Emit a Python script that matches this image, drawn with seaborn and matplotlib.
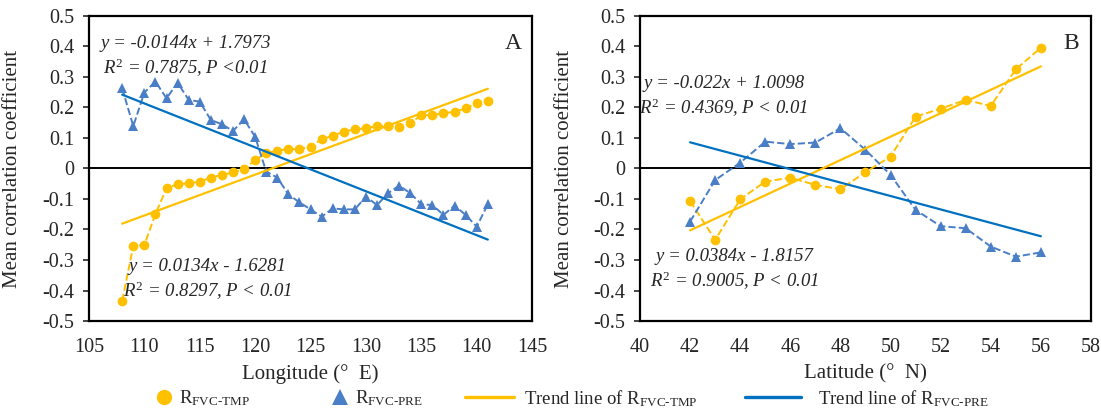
import numpy as np
import matplotlib
matplotlib.use("Agg")
import matplotlib.pyplot as plt
from matplotlib.lines import Line2D
from matplotlib.ticker import FuncFormatter
import seaborn as sns

# Panel A: mean correlation coefficient by longitude
lon = list(range(108, 142))
lon_tmp = [-0.434, -0.254, -0.251, -0.149, -0.065, -0.051, -0.049, -0.043, -0.030, -0.021,
           -0.013, -0.003, 0.028, 0.050, 0.058, 0.064, 0.064, 0.071, 0.096, 0.107,
           0.121, 0.128, 0.132, 0.139, 0.139, 0.137, 0.148, 0.175, 0.175, 0.181,
           0.186, 0.197, 0.214, 0.222]
lon_pre = [0.263, 0.139, 0.249, 0.285, 0.230, 0.281, 0.225, 0.219, 0.159, 0.145,
           0.123, 0.161, 0.104, -0.010, -0.030, -0.085, -0.111, -0.134, -0.158, -0.131,
           -0.134, -0.134, -0.092, -0.120, -0.081, -0.056, -0.081, -0.117, -0.120, -0.152,
           -0.122, -0.152, -0.191, -0.117]

# Panel B: mean correlation coefficient by latitude
lat = list(range(42, 57))
lat_tmp = [-0.107, -0.234, -0.101, -0.043, -0.030, -0.054, -0.068, -0.012, 0.039, 0.170,
           0.196, 0.225, 0.205, 0.325, 0.396]
lat_pre = [-0.174, -0.038, 0.019, 0.088, 0.080, 0.085, 0.132, 0.061, -0.021, -0.136,
           -0.189, -0.196, -0.256, -0.289, -0.275]

# linear trend coefficients (slope, intercept) as printed on the chart
fit_lon_tmp = (0.0134, -1.6281)
fit_lon_pre = (-0.0144, 1.7973)
fit_lat_tmp = (0.0384, -1.8157)
fit_lat_pre = (-0.022, 1.0098)

eq_lon_pre = "y = -0.0144x + 1.7973\n$R^2$ = 0.7875, P <0.01"
eq_lon_tmp = "y = 0.0134x - 1.6281\n$R^2$ = 0.8297, P < 0.01"
eq_lat_pre = "y = -0.022x + 1.0098\n$R^2$ = 0.4369, P < 0.01"
eq_lat_tmp = "y = 0.0384x - 1.8157\n$R^2$ = 0.9005, P < 0.01"

YELLOW = "#FFC000"
BLUE_PT = "#4A7EC6"
BLUE_LN = "#0070C0"

sns.set_style("white")
plt.rcParams["font.family"] = ["Liberation Serif", "DejaVu Serif"]
plt.rcParams["mathtext.fontset"] = "custom"
plt.rcParams["mathtext.rm"] = "Liberation Serif"
plt.rcParams["mathtext.it"] = "Liberation Serif:italic"
plt.rcParams["axes.unicode_minus"] = False


def trend(x, coef):
    x = np.array([min(x), max(x)], dtype=float)
    return x, coef[0] * x + coef[1]


def draw_panel(ax, x, tmp, pre, ftmp, fpre, xlim, xticks, xlabel, tag):
    sns.lineplot(x=x, y=tmp, ax=ax, color=YELLOW, marker="o", markersize=7,
                 markeredgewidth=0, linestyle="--", linewidth=1.4)
    sns.lineplot(x=x, y=pre, ax=ax, color=BLUE_PT, marker="^", markersize=7.5,
                 markeredgewidth=0, linestyle="--", linewidth=1.4)
    tx, ty = trend(x, ftmp)
    sns.lineplot(x=tx, y=ty, ax=ax, color=YELLOW, linewidth=1.6)
    tx, ty = trend(x, fpre)
    sns.lineplot(x=tx, y=ty, ax=ax, color=BLUE_LN, linewidth=1.6)
    ax.axhline(0, color="black", linewidth=1.4, zorder=0)

    ax.set_xlim(*xlim)
    ax.set_ylim(-0.5, 0.5)
    ax.set_xticks(xticks)
    ax.set_yticks(np.round(np.arange(-0.5, 0.51, 0.1), 1))
    ax.yaxis.set_major_formatter(FuncFormatter(lambda v, p: f"{round(v, 1) + 0:g}"))
    ax.tick_params(axis="y", direction="out", length=4.5, width=1.2, pad=6,
                   labelsize=14.5, left=True)
    ax.tick_params(axis="x", length=0, pad=12, labelsize=14.5)
    for s in ax.spines.values():
        s.set_linewidth(1.6)
        s.set_color("black")
    ax.set_xlabel(xlabel, fontsize=15, labelpad=5)
    ax.set_ylabel("Mean correlation coefficient", fontsize=15)
    ax.text(0.957, 0.91, tag, transform=ax.transAxes, fontsize=17,
            ha="center", va="center")


fig = plt.figure(figsize=(11.01, 4.15), dpi=100)
ax1 = fig.add_axes([0.0808, 0.2265, 0.4025, 0.735])
ax2 = fig.add_axes([0.5813, 0.2265, 0.4096, 0.735])

draw_panel(ax1, lon, lon_tmp, lon_pre, fit_lon_tmp, fit_lon_pre,
           (105, 145), range(105, 146, 5), "Longitude (\u00b0  E)", "A")
draw_panel(ax2, lat, lat_tmp, lat_pre, fit_lat_tmp, fit_lat_pre,
           (40, 58), range(40, 59, 2), "Latitude (\u00b0  N)", "B")
ax1.yaxis.set_label_coords(-0.150, 0.5)
ax2.yaxis.set_label_coords(-0.146, 0.5)

kw = dict(fontsize=13.5, style="italic", ha="center", va="center", linespacing=1.3)
ax1.text(113.7, 0.366, eq_lon_pre, **kw)
ax1.text(115.7, -0.366, eq_lon_tmp, **kw)
ax2.text(43.35, 0.234, eq_lat_pre, **kw)
ax2.text(43.79, -0.333, eq_lat_tmp, **kw)

# legend entries placed individually, as in the source figure
entries = [
    (Line2D([], [], color=YELLOW, marker="o", linestyle="none", markersize=11, markeredgewidth=0),
     "R$_{\\mathrm{FVC\u2010TMP}}$", 0.140, 1.0, 0.3),
    (Line2D([], [], color=BLUE_PT, marker="^", linestyle="none", markersize=11, markeredgewidth=0),
     "R$_{\\mathrm{FVC\u2010PRE}}$", 0.3006, 1.0, 0.3),
    (Line2D([], [], color=YELLOW, linewidth=2.4),
     "Trend line of R$_{\\mathrm{FVC\u2010TMP}}$", 0.4223, 2.6, 0.55),
    (Line2D([], [], color=BLUE_LN, linewidth=2.4),
     "Trend line of R$_{\\mathrm{FVC\u2010PRE}}$", 0.6767, 3.0, 0.9),
]
for h, lab, xa, hl, tp in entries:
    fig.legend([h], [lab], loc="center left", bbox_to_anchor=(xa, 0.04),
               frameon=False, fontsize=13.5, handlelength=hl, handletextpad=tp,
               borderpad=0, borderaxespad=0)

fig.savefig("out.png", dpi=100)
